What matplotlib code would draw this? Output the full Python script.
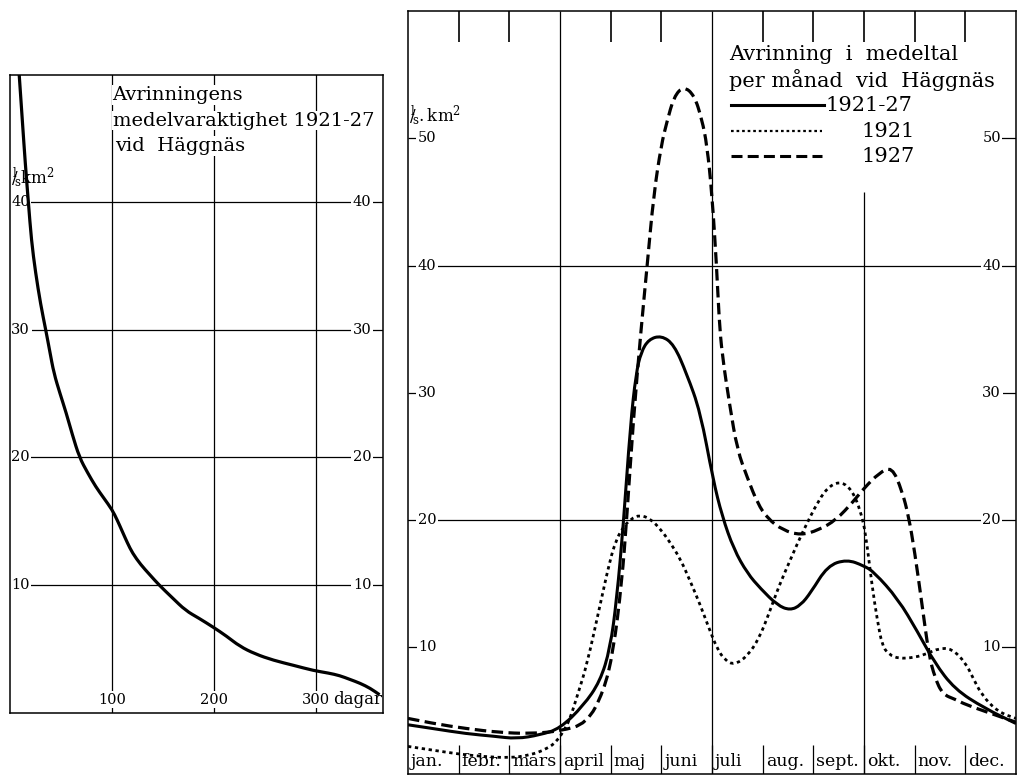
import matplotlib
matplotlib.use("Agg")
import matplotlib.pyplot as plt
from matplotlib.path import Path
from matplotlib.patches import PathPatch

plt.rcParams['font.family'] = ['DejaVu Serif']
plt.rcParams['mathtext.fontset'] = 'dejavuserif'

# ---------------- data ----------------
# Left panel: mean duration curve 1921-27 (days, l/s km2)
duration_days = [9, 12, 15, 18, 21, 25, 30, 35, 39, 43, 49, 55, 61, 68, 76, 84, 92,
                 100, 105, 110, 115, 120, 128, 137, 146, 159, 172, 185, 199, 212,
                 225, 240, 258, 278, 297, 312, 323, 333, 343, 353, 362]
duration_values = [50, 46.5, 43, 40, 37, 34.5, 32, 30, 28.3, 26.6, 25, 23.5, 21.8,
                   20, 18.8, 17.7, 16.8, 15.9, 15.1, 14.2, 13.3, 12.5, 11.6, 10.8,
                   10.0, 9.0, 8.0, 7.4, 6.7, 6.0, 5.2, 4.6, 4.1, 3.7, 3.3, 3.1, 2.9,
                   2.6, 2.3, 1.9, 1.4]
duration_xticks = [100, 200, 300]
duration_yticks = [10, 20, 30, 40]

# Right panel: monthly mean runoff (month position 0..12, l/s km2)
month_labels = ["jan.", "febr.", "mars", "april", "maj", "juni", "juli",
                "aug.", "sept.", "okt.", "nov.", "dec."]

mean_x = [0, 0.5, 1.15, 1.7, 2.14, 2.6, 3.0, 3.46, 3.79, 3.99, 4.12, 4.25, 4.39,
          4.5, 4.6, 4.75, 5.0, 5.25, 5.5, 5.77, 6.02, 6.2, 6.43, 6.7, 6.96, 7.29,
          7.54, 7.75, 7.95, 8.28, 8.66, 9.0, 9.2, 9.67, 10.06, 10.39, 10.79,
          11.38, 12.0]
mean_y = [3.9, 3.6, 3.2, 3.0, 2.8, 3.1, 3.6, 5.4, 7.3, 9.9, 13.8, 19.6, 27.5,
          31.5, 33.2, 34.2, 34.5, 33.8, 31.5, 28.5, 23.2, 20.3, 17.7, 15.8, 14.6,
          13.3, 12.9, 13.3, 14.3, 16.4, 16.9, 16.4, 15.9, 13.8, 11.2, 8.8, 6.7,
          5.2, 4.0]

y1921_x = [0, 0.5, 1.0, 1.5, 2.0, 2.4, 2.74, 2.94, 3.1, 3.2, 3.35, 3.53, 3.79,
           3.99, 4.1, 4.22, 4.4, 4.58, 4.78, 4.98, 5.18, 5.38, 5.58, 5.77, 5.93,
           6.1, 6.25, 6.44, 6.7, 6.93, 7.12, 7.32, 7.56, 7.78, 8.11, 8.3, 8.5,
           8.68, 8.83, 8.95, 9.03, 9.16, 9.26, 9.36, 9.5, 9.69, 10.01, 10.25,
           10.47, 10.73, 11.0, 11.15, 11.33, 11.65, 12.0]
y1921_y = [2.2, 1.9, 1.6, 1.4, 1.3, 1.5, 2.0, 2.6, 3.6, 4.4, 6.3, 8.6, 13.3,
           16.9, 18.3, 19.3, 20.1, 20.4, 20.1, 19.3, 18.2, 16.9, 15.1, 13.3, 11.6,
           9.9, 9.0, 8.6, 9.3, 10.7, 12.6, 14.8, 17.0, 19.0, 21.6, 22.6, 23.0,
           22.7, 21.8, 20.4, 19.0, 14.8, 12.2, 10.1, 9.4, 9.1, 9.2, 9.5, 9.9, 9.9,
           8.8, 7.6, 6.2, 4.9, 4.4]

y1927_x = [0, 0.5, 1.15, 1.8, 2.4, 3.0, 3.53, 3.86, 4.05, 4.22, 4.32, 4.45, 4.6,
           4.72, 4.85, 5.0, 5.11, 5.25, 5.44, 5.65, 5.8, 5.9, 6.0, 6.09, 6.14,
           6.2, 6.35, 6.5, 6.7, 6.9, 7.1, 7.4, 7.75, 8.1, 8.45, 8.8, 9.0, 9.3,
           9.55, 9.75, 9.88, 10.0, 10.14, 10.28, 10.4, 10.55, 10.8, 11.0, 11.5,
           12.0]
y1927_y = [4.4, 4.0, 3.6, 3.3, 3.2, 3.4, 4.0, 6.5, 9.6, 15.1, 20.3, 28.0, 35.0,
           40.0, 45.6, 49.5, 51.3, 53.3, 54.1, 53.4, 51.5, 49.5, 45.6, 40.0, 35.8,
           33.0, 29.0, 25.5, 23.3, 21.3, 20.1, 19.2, 18.8, 19.2, 20.0, 21.5, 22.5,
           23.7, 24.2, 22.3, 20.3, 17.5, 13.5, 9.4, 7.6, 6.3, 5.9, 5.5, 4.8, 4.1]

monthly_yticks = [10, 20, 30, 40, 50]
monthly_grid = [20, 40]


def smooth_path(xs, ys):
    """Quadratic Bezier path using the read points as control points."""
    verts = [(xs[0], ys[0])]
    codes = [Path.MOVETO]
    for i in range(1, len(xs) - 1):
        verts.append((xs[i], ys[i]))
        verts.append(((xs[i] + xs[i + 1]) / 2.0, (ys[i] + ys[i + 1]) / 2.0))
        codes += [Path.CURVE3, Path.CURVE3]
    verts.append((xs[-1], ys[-1]))
    codes.append(Path.LINETO)
    return Path(verts, codes)


def draw_curve(ax, xs, ys, **kw):
    patch = PathPatch(smooth_path(xs, ys), fill=False, edgecolor='black',
                      zorder=3, **kw)
    ax.add_patch(patch)


# ---------------- figure ----------------
fig = plt.figure(figsize=(10.17, 7.77), dpi=100)
W, H = 1017.0, 777.0

LW_GRID = 0.9
box = dict(fc='white', ec='none', pad=1.0)

# ---- left panel ----
ax1 = fig.add_axes([10 / W, (H - 712.6) / H, 372.6 / W, 638 / H])
ax1.set_xlim(0, 365)
ax1.set_ylim(0, 50)
ax1.set_xticks([])
ax1.set_yticks([])
for sp in ax1.spines.values():
    sp.set_linewidth(1.1)
for v in duration_yticks:
    ax1.axhline(v, color='black', lw=LW_GRID, zorder=1)
    ax1.text(10.5, v, str(v), ha='center', va='center', fontsize=10.5,
             bbox=box, zorder=2)
    ax1.text(345, v, str(v), ha='center', va='center', fontsize=10.5,
             bbox=box, zorder=2)
for d in duration_xticks:
    ax1.axvline(d, color='black', lw=LW_GRID, zorder=1)
for d in duration_xticks:
    ax1.text(d, 1.0, str(d), ha='center', va='center', fontsize=10.5,
             bbox=box, zorder=2)
ax1.text(317, 1.0, "dagar", ha='left', va='center', fontsize=12,
         bbox=box, zorder=2)

draw_curve(ax1, duration_days, duration_values, lw=2.3)

title_lines = ["Avrinningens", "medelvaraktighet 1921-27", "vid  Häggnäs"]
for i, t in enumerate(title_lines):
    ax1.text(100.5 if i < 2 else 103, 48.4 - i * 2.0, t, ha='left', va='center',
             fontsize=14, bbox=dict(fc='white', ec='none', pad=0.5), zorder=2)
ax1.text(0.5, 42.0, r"$^{\mathrm{l}}\!\!/\!_{\mathrm{s}}\mathrm{km}^{2}$",
         ha='left', va='center', fontsize=12, zorder=2)

# ---- right panel ----
ax2 = fig.add_axes([408 / W, (H - 774.4) / H, 608 / W, 763.2 / H])
ax2.set_xlim(0, 12)
ax2.set_ylim(0, 60)
ax2.set_xticks([])
ax2.set_yticks([])
for sp in ax2.spines.values():
    sp.set_linewidth(1.1)

for v in monthly_grid:
    ax2.axhline(v, color='black', lw=LW_GRID, zorder=1)
for v in monthly_yticks:
    if v not in monthly_grid:
        ax2.hlines(v, 0, 0.2, color='black', lw=LW_GRID, zorder=1)
        ax2.hlines(v, 11.6, 12, color='black', lw=LW_GRID, zorder=1)
    ax2.text(0.38, v, str(v), ha='center', va='center', fontsize=10.5,
             bbox=box, zorder=2)
    ax2.text(11.52, v, str(v), ha='center', va='center', fontsize=10.5,
             bbox=box, zorder=2)

# quarter lines, top ticks and month separators
ax2.vlines([3, 6], 0, 60, color='black', lw=LW_GRID, zorder=1)
ax2.vlines([9], 0, 45.8, color='black', lw=LW_GRID, zorder=1)
ax2.vlines([1, 2, 4, 5, 7, 8, 9, 10, 11], 57.6, 60, color='black', lw=1.2, zorder=1)
ax2.vlines(range(1, 12), 0, 2.3, color='black', lw=LW_GRID, zorder=1)
for i, lab in enumerate(month_labels):
    ax2.text(i + 0.06, 1.0, lab, ha='left', va='center', fontsize=12.5, zorder=2)

ax2.text(0.02, 51.8, r"$^{\mathrm{l}}\!\!/\!_{\mathrm{s}}\mathrm{.km}^{2}$",
         ha='left', va='center', fontsize=12, zorder=2)

draw_curve(ax2, mean_x, mean_y, lw=2.2)
draw_curve(ax2, y1921_x, y1921_y, lw=2.0, linestyle=(0, (1.2, 1.3)))
draw_curve(ax2, y1927_x, y1927_y, lw=2.3, linestyle=(0, (3.6, 1.7)))

# legend block
lg = dict(transform=ax2.transAxes, ha='left', va='center', fontsize=15,
          bbox=dict(fc='white', ec='none', pad=0.5), zorder=2)
ax2.text(0.528, 0.943, "Avrinning  i  medeltal", **lg)
ax2.text(0.528, 0.910, "per månad  vid  Häggnäs", **lg)
ax2.plot([0.531, 0.685], [0.877, 0.877], transform=ax2.transAxes, color='black',
         lw=2.2, zorder=3)
ax2.plot([0.531, 0.681], [0.843, 0.843], transform=ax2.transAxes, color='black',
         lw=1.6, linestyle=(0, (1.2, 1.3)), zorder=3)
ax2.plot([0.531, 0.681], [0.810, 0.810], transform=ax2.transAxes, color='black',
         lw=2.2, linestyle=(0, (3.6, 1.7)), zorder=3)
ax2.text(0.686, 0.877, "1921-27", **lg)
ax2.text(0.745, 0.843, "1921", **lg)
ax2.text(0.745, 0.810, "1927", **lg)

fig.savefig("out.png", dpi=100)
